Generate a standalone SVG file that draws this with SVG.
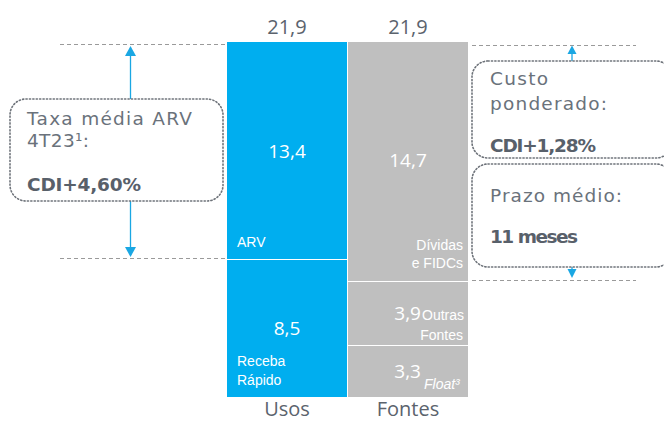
<svg xmlns="http://www.w3.org/2000/svg" width="664" height="422" viewBox="0 0 664 422">
<style>
.num{font-family:"Open Sans","Noto Sans",sans-serif;font-size:20px;fill:#5b636d;text-anchor:middle}
.wnum{font-family:"Open Sans","Noto Sans",sans-serif;font-size:19px;fill:#ffffff}
.lbl{font-family:"Liberation Sans",Arial,sans-serif;font-size:14px;fill:#ffffff}
.box{fill:#ffffff;stroke:#6e737a;stroke-width:1.6;stroke-dasharray:1.2 2.2;stroke-linecap:round}
.bt{font-family:"DejaVu Sans","Open Sans",sans-serif;font-size:18.5px;fill:#6a727b}
.bb{font-family:"DejaVu Sans","Open Sans",sans-serif;font-size:18.5px;font-weight:bold;fill:#58606a}
.dash{stroke:#9a9a9a;stroke-width:1;stroke-dasharray:4 3;fill:none}
.arr{stroke:#1aa7e3;stroke-width:1.3;fill:none}
.head{fill:#1aa7e3}
</style>
<g id="connectors">
<line class="dash" x1="60" y1="44.5" x2="226" y2="44.5"/>
<line class="dash" x1="60" y1="258.5" x2="226" y2="258.5"/>
<line class="dash" x1="472" y1="45.5" x2="636" y2="45.5"/>
<line class="dash" x1="472" y1="280.5" x2="636" y2="280.5"/>
<line class="arr" x1="130.5" y1="54" x2="130.5" y2="100"/>
<line class="arr" x1="130.5" y1="200" x2="130.5" y2="249"/>
<polygon class="head" points="130.5,46 125,56 136,56"/>
<polygon class="head" points="130.5,257 125,247 136,247"/>
<line class="arr" x1="572" y1="53" x2="572" y2="62"/>
<line class="arr" x1="572" y1="266" x2="572" y2="270"/>
<polygon class="head" points="572,45.5 567.5,54 576.5,54"/>
<polygon class="head" points="572,278 567.5,269 576.5,269"/>
</g>
<g id="total-usos"><text class="num" x="287" y="34" font-size="21">21,9</text></g>
<g id="total-fontes"><text class="num" x="408" y="34" font-size="21">21,9</text></g>
<g id="arv">
<rect x="227" y="42" width="120" height="217" fill="#00aeef"/>
<text class="wnum" x="287" y="158" text-anchor="middle">13,4</text>
<text class="lbl" x="237" y="247">ARV</text>
</g>
<g id="receba">
<rect x="227" y="260" width="120" height="137" fill="#00aeef"/>
<text class="wnum" x="287" y="335" text-anchor="middle">8,5</text>
<text class="lbl" x="237" y="366">Receba</text>
<text class="lbl" x="237" y="385">Rápido</text>
</g>
<g id="dividas">
<rect x="348" y="42" width="120" height="239" fill="#bfbfbf"/>
<text class="wnum" x="408" y="167" text-anchor="middle">14,7</text>
<text class="lbl" x="463" y="250" text-anchor="end">Dívidas</text>
<text class="lbl" x="463" y="268" text-anchor="end">e FIDCs</text>
</g>
<g id="outras">
<rect x="348" y="282" width="120" height="63" fill="#bfbfbf"/>
<text class="wnum" x="421" y="320" text-anchor="end">3,9</text>
<text class="lbl" x="422" y="320">Outras</text>
<text class="lbl" x="463" y="340" text-anchor="end">Fontes</text>
</g>
<g id="float">
<rect x="348" y="346" width="120" height="51" fill="#bfbfbf"/>
<text class="wnum" x="421" y="378" text-anchor="end">3,3</text>
<text class="lbl" x="424" y="389" font-style="italic">Float³</text>
</g>
<g id="label-usos"><text class="num" x="287" y="416">Usos</text></g>
<g id="label-fontes"><text class="num" x="408" y="416">Fontes</text></g>
<g id="taxa-box">
<rect class="box" x="10" y="99" width="213" height="102" rx="16"/>
<text class="bt" x="27" y="125" textLength="165" lengthAdjust="spacing">Taxa média ARV</text>
<text class="bt" x="27" y="147" textLength="62" lengthAdjust="spacing">4T23¹:</text>
<text class="bb" x="27" y="191" textLength="114" lengthAdjust="spacing">CDI+4,60%</text>
</g>
<g id="custo-box">
<rect class="box" x="472" y="61" width="200" height="97" rx="16"/>
<text class="bt" x="490" y="85" textLength="58" lengthAdjust="spacing">Custo</text>
<text class="bt" x="490" y="110" textLength="117" lengthAdjust="spacing">ponderado:</text>
<text class="bb" x="490" y="152" textLength="106" lengthAdjust="spacing">CDI+1,28%</text>
</g>
<g id="prazo-box">
<rect class="box" x="472" y="164" width="200" height="103" rx="16"/>
<text class="bt" x="490" y="202" textLength="132" lengthAdjust="spacing">Prazo médio:</text>
<text class="bb" x="490" y="243" textLength="88" lengthAdjust="spacing">11 meses</text>
</g>
</svg>
